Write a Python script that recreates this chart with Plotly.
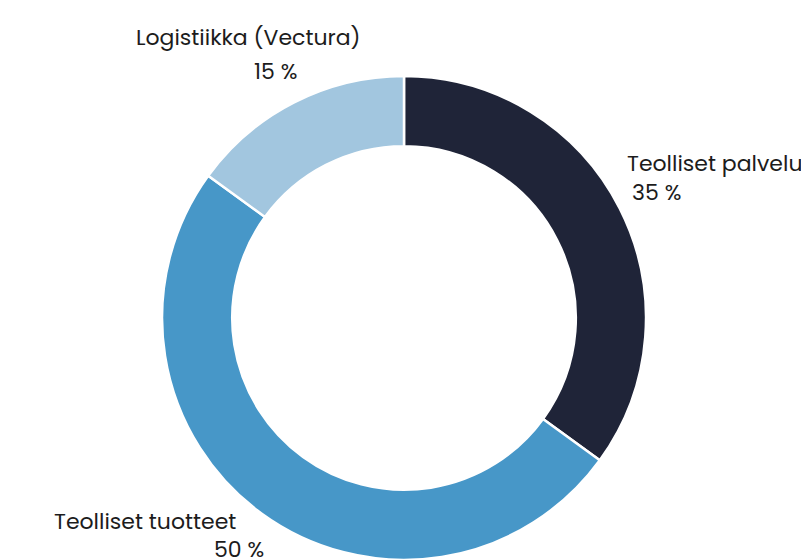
import plotly.graph_objects as go

categories = ["Teolliset palvelut", "Teolliset tuotteet", "Logistiikka (Vectura)"]
values = [35, 50, 15]
colors = ["#1f2438", "#4797c8", "#a2c6df"]

W, H = 809, 560
OFF = 8  # page body margin offset

fig = go.Figure(go.Pie(
    labels=categories,
    values=values,
    hole=0.71,
    sort=False,
    direction="clockwise",
    rotation=0,
    marker=dict(colors=colors, line=dict(color="white", width=2.5)),
    textinfo="none",
    hoverinfo="label+percent",
    showlegend=False,
    domain=dict(x=[(162 - OFF) / W, (646 - OFF) / W], y=[OFF / H, (OFF + 484) / H]),
))

# label placement (screen pixels from top-left): name pos, percent pos
label_pos = {
    "Logistiikka (Vectura)": ((134, 37), (252, 71)),
    "Teolliset palvelut": ((625, 163), (630, 193)),
    "Teolliset tuotteet": ((52, 521), (212, 549)),
}
font = dict(family="Poppins, Inter, sans-serif", size=22, color="#1c1c1c")
annotations = []
for cat, val in zip(categories, values):
    (nx, ny), (px, py) = label_pos[cat]
    annotations.append(dict(text=cat, x=(nx - OFF) / W, y=1 - (ny - OFF) / H, xref="paper", yref="paper",
                            xanchor="left", yanchor="middle", showarrow=False, font=font))
    annotations.append(dict(text=f"{val} %", x=(px - OFF) / W, y=1 - (py - OFF) / H, xref="paper", yref="paper",
                            xanchor="left", yanchor="middle", showarrow=False, font=font))

fig.update_layout(
    width=W, height=H,
    margin=dict(l=0, r=0, t=0, b=0),
    paper_bgcolor="white",
    plot_bgcolor="white",
    annotations=annotations,
)

fig.write_html("out.html")
